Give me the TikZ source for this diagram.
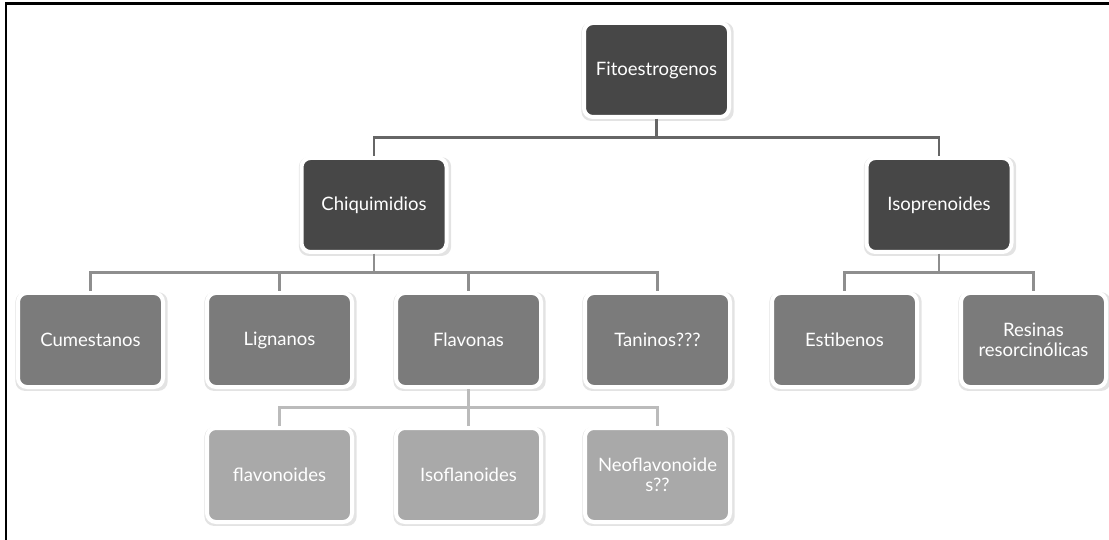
\documentclass[tikz,border=0pt]{standalone}
\usepackage{fontspec}
\setmainfont{Lato}
\usetikzlibrary{trees,shadows}
\definecolor{boxdark}{HTML}{474747}
\definecolor{boxmid}{HTML}{7B7B7B}
\definecolor{boxlight}{HTML}{A9A9A9}
\definecolor{lineone}{HTML}{666666}
\definecolor{linetwo}{HTML}{8E8E8E}
\definecolor{linethree}{HTML}{BBBBBB}
\tikzset{
  termbox/.style={draw=white,line width=4pt,rounded corners=9pt,
    minimum width=145pt,minimum height=94pt,align=center,text=white,
    font=\fontsize{18.5}{20.5}\selectfont,
    drop shadow={opacity=0.22,shadow scale=1.05,shadow xshift=1pt,shadow yshift=-1.5pt}},
  boxA/.style={termbox,fill=boxdark},
  boxB/.style={termbox,fill=boxmid},
  boxC/.style={termbox,fill=boxlight}
}
\begin{document}
\begin{tikzpicture}[x=1pt,y=1pt,level distance=135pt,
		edge from parent fork down,
		level 1/.style={sibling distance=565pt,edge from parent/.style={draw=lineone,line width=2.5pt}},
		level 2/.style={sibling distance=189pt,edge from parent/.style={draw=linetwo,line width=2.5pt}},
		level 3/.style={sibling distance=189pt,edge from parent/.style={draw=linethree,line width=2.5pt}}]
		\useasboundingbox (0,0) rectangle (1109,-540);
		\draw[line width=2.5pt] (6,-540) -- (6,-3.5) -- (1109,-3.5);
		\node[boxA] (fito) at (656.5,-70) {Fitoestrogenos}
		child { node[boxA] (chiq) {Chiquimidios}
			child { node[boxB] (cume) {Cumestanos}
			}
			child { node[boxB] (lign) {Lignanos}
			}
			child { node[boxB] (flav) {Flavonas}
				child { node[boxC] (flvd) {flavonoides}
				}
				child { node[boxC] (isof) {Isoflanoides}
				}
				child { node[boxC] (neof) {Neoflavonoide\\s??}
				}
			}
			child { node[boxB] (tani) {Taninos???}
			}
		}
		child { node[boxA] (isop) {Isoprenoides}
			child { node[boxB] (esti) {Estibenos}
			}
			child { node[boxB] (resi) {Resinas\\resorcinólicas}
			}
		};
\end{tikzpicture}
\end{document}
